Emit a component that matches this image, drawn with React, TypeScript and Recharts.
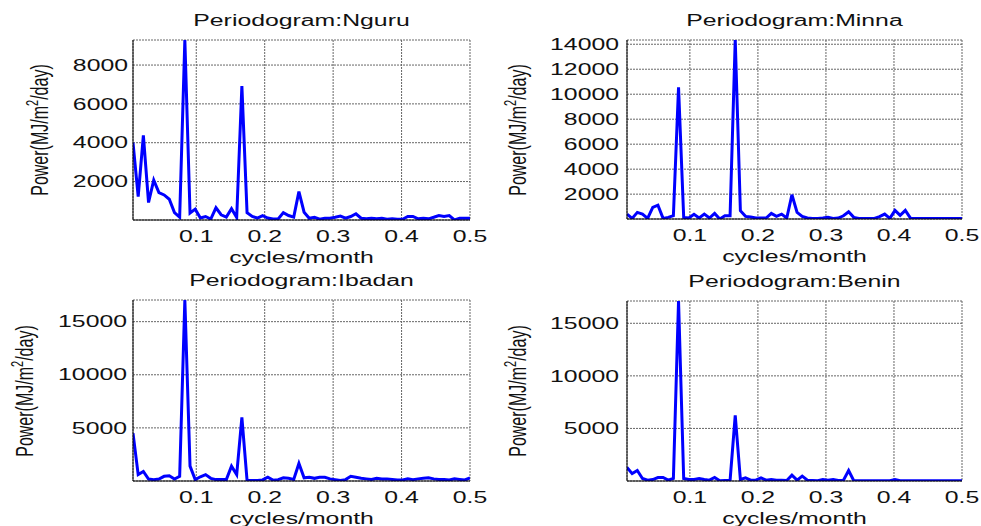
import React from 'react';
import { LineChart, Line, XAxis, YAxis, CartesianGrid } from 'recharts';

// periodogram frequency grid, 132 months -> k/132 cycles/month
const N_MONTHS = 132;
const FREQ = Array.from({ length: N_MONTHS / 2 }, (_, i) => (i + 1) / N_MONTHS);
const X_TICKS = [0.1, 0.2, 0.3, 0.4, 0.5];

const NGURU = [
  4000, 1230, 4380, 920, 2070, 1430, 1310, 1090, 400, 165,
  9290, 380, 580, 120, 200, 70, 650, 290, 170, 600,
  150, 6920, 400, 200, 120, 240, 120, 70, 70, 400,
  250, 170, 1480, 420, 110, 160, 60, 110, 110, 160,
  220, 110, 200, 340, 110, 80, 110, 80, 110, 60,
  80, 60, 60, 200, 200, 80, 110, 80, 160, 250,
  200, 250, 20, 110, 110, 110,
];

const MINNA = [
  400, 60, 540, 400, 60, 940, 1120, 60, 140, 270,
  10550, 140, 90, 380, 90, 400, 90, 460, 10, 270,
  270, 14340, 670, 220, 170, 90, 90, 90, 460, 220,
  400, 90, 1950, 540, 220, 90, 60, 60, 90, 140,
  60, 90, 270, 590, 140, 60, 60, 60, 60, 200,
  400, 60, 700, 300, 700, 80, 60, 60, 60, 60,
  60, 60, 60, 60, 60, 60,
];

const IBADAN = [
  4500, 600, 900, 190, 130, 190, 440, 500, 190, 440,
  17040, 1400, 130, 400, 600, 250, 130, 130, 130, 1400,
  600, 6000, 50, 50, 50, 100, 350, 80, 130, 300,
  250, 150, 1650, 300, 350, 250, 350, 350, 200, 130,
  60, 130, 450, 350, 250, 200, 150, 250, 200, 200,
  150, 100, 100, 200, 130, 200, 250, 300, 200, 150,
  150, 100, 200, 150, 100, 300,
];

const BENIN = [
  1300, 700, 1000, 240, 80, 140, 330, 330, 80, 240,
  17120, 240, 140, 140, 240, 140, 80, 330, 20, 50,
  50, 6250, 140, 300, 80, 80, 300, 80, 140, 80,
  80, 50, 550, 80, 460, 80, 50, 20, 140, 80,
  140, 50, 80, 1000, 30, 30, 30, 30, 30, 30,
  30, 30, 140, 30, 30, 30, 30, 30, 30, 30,
  30, 30, 30, 30, 30, 30,
];

const FONT = '"Liberation Sans", Arial, Helvetica, sans-serif';
const SX = 1.55; // the source figure is stretched horizontally

function XTick({ x, y, payload }: any) {
  return (
    <g transform={`translate(${x},${y}) scale(${SX},1)`}>
      <text x={0} y={0} dy="0.71em" textAnchor="middle" fontSize={16} fontFamily={FONT} fill="#111">
        {payload.value}
      </text>
    </g>
  );
}

function YTick({ x, y, payload }: any) {
  return (
    <g transform={`translate(${x},${y}) scale(${SX},1)`}>
      <text x={0} y={0} dy="0.355em" textAnchor="end" fontSize={16} fontFamily={FONT} fill="#111">
        {payload.value}
      </text>
    </g>
  );
}

const NoTick = () => <g />;

interface PanelProps {
  name: string;
  values: number[];
  yDomain: [number, number];
  yTicks: number[];
  left: number;
  top: number;
  w: number;
  h: number;
  plotL: number;
  plotT: number;
  plotR: number;
  plotB: number;
  yGap: number;
  ylabX: number;
}

function Panel(p: PanelProps) {
  const data = FREQ.map((f, i) => ({ f, p: p.values[i] }));
  const xDomain: [number, number] = [1 / N_MONTHS, 0.5];
  const cy = (p.plotT + p.plotB) / 2;
  const text: React.CSSProperties = {
    position: 'absolute',
    fontFamily: FONT,
    fontSize: 16,
    lineHeight: '20px',
    color: '#111',
    whiteSpace: 'nowrap',
    textAlign: 'center',
  };
  return (
    <div style={{ position: 'absolute', left: p.left, top: p.top, width: p.w, height: p.h }}>
      <div style={{ ...text, left: p.plotL, width: p.plotR - p.plotL, top: p.plotT - 29, transform: `scaleX(${SX})` }}>
        Periodogram:{p.name}
      </div>
      <div style={{ ...text, left: p.plotL, width: p.plotR - p.plotL, top: p.plotB + 28, transform: `scaleX(${SX})` }}>
        cycles/month
      </div>
      <div
        style={{
          ...text,
          left: p.ylabX - 100,
          top: cy - 10,
          width: 200,
          height: 20,
          transform: `scaleX(${SX}) rotate(-90deg)`,
        }}
      >
        Power(MJ/m<span style={{ fontSize: 11, position: 'relative', top: -6 }}>2</span>/day)
      </div>
      <div style={{ position: 'absolute', left: 0, top: 0 }}>
        <LineChart
          width={p.w}
          height={p.h}
          data={data}
          margin={{ top: p.plotT, right: p.w - p.plotR, left: 0, bottom: 0 }}
        >
          <CartesianGrid xAxisId="b" yAxisId="l" stroke="#666" strokeDasharray="2 1" />
          <XAxis
            xAxisId="b"
            dataKey="f"
            type="number"
            domain={xDomain}
            ticks={X_TICKS}
            allowDataOverflow
            height={p.h - p.plotB}
            tickLine={false}
            tickSize={0}
            tickMargin={11}
            axisLine={{ stroke: '#000' }}
            tick={<XTick />}
          />
          <XAxis
            xAxisId="t"
            orientation="top"
            dataKey="f"
            type="number"
            domain={xDomain}
            ticks={X_TICKS}
            allowDataOverflow
            height={0}
            mirror
            tickSize={3}
            tickLine={{ stroke: '#000', strokeWidth: 2 }}
            axisLine={{ stroke: '#000', strokeWidth: 1.5 }}
            tick={<NoTick />}
          />
          <YAxis
            yAxisId="l"
            type="number"
            domain={p.yDomain}
            ticks={p.yTicks}
            allowDataOverflow
            width={p.plotL}
            tickLine={false}
            tickSize={0}
            tickMargin={p.yGap}
            axisLine={{ stroke: '#000' }}
            tick={<YTick />}
          />
          <YAxis
            yAxisId="r"
            orientation="right"
            type="number"
            domain={p.yDomain}
            ticks={p.yTicks}
            allowDataOverflow
            width={0}
            mirror
            tickSize={4}
            tickLine={{ stroke: '#000', strokeWidth: 2 }}
            axisLine={{ stroke: '#000', strokeWidth: 2 }}
            tick={<NoTick />}
          />
          <Line
            xAxisId="b"
            yAxisId="l"
            type="linear"
            dataKey="p"
            stroke="#0000ff"
            strokeWidth={3}
            dot={false}
            isAnimationActive={false}
          />
        </LineChart>
      </div>
    </div>
  );
}

export default function App() {
  return (
    <div style={{ position: 'absolute', left: 0, top: 0, width: 981, height: 526, background: '#fff', overflow: 'hidden' }}>
      <Panel
        name="Nguru"
        values={NGURU}
        yDomain={[20, 9290]}
        yTicks={[2000, 4000, 6000, 8000]}
        left={0}
        top={0}
        w={490}
        h={263}
        plotL={133}
        plotT={40}
        plotR={470}
        plotB={220}
        yGap={5}
        ylabX={40}
      />
      <Panel
        name="Minna"
        values={MINNA}
        yDomain={[10, 14340]}
        yTicks={[2000, 4000, 6000, 8000, 10000, 12000, 14000]}
        left={490}
        top={0}
        w={491}
        h={263}
        plotL={137}
        plotT={40}
        plotR={472}
        plotB={219}
        yGap={8}
        ylabX={28}
      />
      <Panel
        name="Ibadan"
        values={IBADAN}
        yDomain={[0, 17040]}
        yTicks={[5000, 10000, 15000]}
        left={0}
        top={263}
        w={490}
        h={263}
        plotL={133}
        plotT={37}
        plotR={470}
        plotB={218}
        yGap={6}
        ylabX={25}
      />
      <Panel
        name="Benin"
        values={BENIN}
        yDomain={[0, 17120]}
        yTicks={[5000, 10000, 15000]}
        left={490}
        top={263}
        w={491}
        h={263}
        plotL={137}
        plotT={38}
        plotR={472}
        plotB={218}
        yGap={8}
        ylabX={28}
      />
    </div>
  );
}
